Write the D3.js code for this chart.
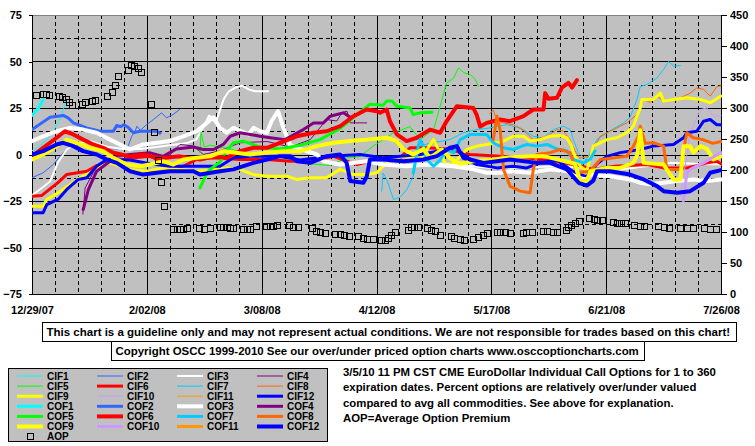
<!DOCTYPE html>
<html><head><meta charset="utf-8">
<script src="https://cdn.jsdelivr.net/npm/d3@7"></script>
<style>
body{margin:0;background:#fff;}
svg{display:block;font-family:"Liberation Sans",Arial,sans-serif;font-weight:bold;}
</style></head><body>
<svg id="chart" width="755" height="446"></svg>
<script>
// ---------------- DATA ----------------
const startDate = "2007-12-29";
const endDate = "2008-07-26";
const xTickDays = [0, 35, 70, 105, 140, 175, 210];
const xTickLabels = ["12/29/07", "2/02/08", "3/08/08", "4/12/08", "5/17/08", "6/21/08", "7/26/08"];
const leftTicks = [75, 50, 25, 0, -25, -50, -75];
const rightTicks = [450, 400, 350, 300, 250, 200, 150, 100, 50, 0];

const seriesNames = ["CIF1","CIF2","CIF3","CIF4","CIF5","CIF6","CIF7","CIF8","CIF9","CIF10","CIF11","CIF12",
                     "COF1","COF2","COF3","COF4","COF5","COF6","COF7","COF8","COF9","COF10","COF11","COF12"];
const seriesColors = ["#00FFFF","#3366FF","#FFFFFF","#800080","#00FF00","#FF0000","#00CCFF","#FF6600","#FFFF00","#CC99FF","#FF9900","#0000FF",
                      "#00FFFF","#3366FF","#FFFFFF","#800080","#00FF00","#FF0000","#00CCFF","#FF6600","#FFFF00","#CC99FF","#FF9900","#0000FF"];
const seriesWidths = [1,1,2,1,1,3,1,1,3,1,1,3, 3,3,4,3,3,4,3,3,4,3,3,4];

// each series: [day offset from start, percent]
const CIF1 = [[0,2],[2,4],[4.5,8],[7,14],[9,21],[10.6,30]];
const CIF2 = [[0,-12.5],[3.4,-9.8],[6.5,-5.4],[8.5,-1],[10.6,2.7],[14,5],[18,4],[22,3],[26,3],[29.3,4.5],[30.4,9.8],[31.4,12.5],[32,15.2],[33,13],[34.9,16],[37,18.8],[39.5,22.4],[41,19.7],[43,21.5],[45,24.2]];
const CIF3 = [[0.3,-21.5],[3,-18],[5.5,-14.5],[8,-4],[10.6,2.7],[14,6],[18,7],[23,4],[28,3],[33,3],[38,4],[42,5],[47,6],[50,8],[52,14],[54,21],[56,17],[57.3,24],[58.5,30],[60,34],[62,36],[64,37],[66,35],[68,34],[72,34],[73,null],
              [112,-6],[120,-5],[127,-5],[133,-6],[140,-7.2],[150,-7],[160,-6.3],[170,-7.2],[180,-8],[188,-6],[194.5,-4.5],[202,-5],[210,-5.4]];
const CIF4 = [[15.5,-32],[16.2,-18],[18.6,-10],[22.3,-5],[28.4,-2],[36,-1],[40.5,-3],[45.1,5.4],[49.2,4.6],[52.2,0],[57.3,2],[63.4,6.3],[71.6,7],[78.7,4],[84.8,8],[89.8,18.8],[92.9,18],[94.4,22.4],[96,23.3],[97,17],[102,17]];
const CIF5 = [[51.2,1],[51.5,12],[52.5,4],[54.3,5],[60.4,3],[69.5,-2],[78.7,-3],[84.8,-5],[90.9,-6],[95.4,-2],[100,-1],[104,4.5],[110.2,11.7],[115.2,15],[118.3,8],[122.4,13.4],[124.4,26],[126.4,38.5],[128.5,41],[130,46.6],[131.6,44],[133.6,43],[135.1,40.3],[136.1,36.7]];
const CIF6 = [[0,-22.4],[3,-22],[8,-15],[10.6,-10.7],[16.7,-9],[19.7,-6],[22.8,-4.5],[30.9,-1.8],[36,-0.9],[38,-2.7],[42,-8],[46.1,-6.3],[50.2,-2.7],[55.3,-1.8],[63.4,-2.7],[71.6,-2.7],[78.7,-3.6],[84.8,-3.6],[91.9,-1],[99,-5.4],[105.1,-2.7],[112.2,-1.8],[115.2,3.6],[120.4,3.6],[126.4,3],[133.5,0],[142.7,-1],[151.8,-2],[161,-4],[167.1,-6],[171.1,-8],[177.7,-6.3],[187.4,-5.4],[192.5,-7.2],[199.6,-7.2],[202.6,-6],[205.7,-4.5],[208.7,-3.6],[210,-5]];
const CIF7 = [[106.6,-19.7],[107,-10],[108.1,-13.4],[110.2,-24.2],[112.2,-23],[114.2,-19],[116.2,-11.7],[117.3,-1],[117.8,4.5],[121.3,6],[127.4,8],[131.5,11.7],[135.6,13.4],[139.6,14.3],[144.7,16],[148.8,14.3],[152.8,9.8],[155.9,9],[158.9,13.4],[162,15.2],[164,13.4],[165,8],[166.5,1],[168.9,-3],[172.2,8],[175.2,11.7],[180.3,17],[182.3,20],[184.4,29.6],[185.4,36.6],[187.4,37.6],[190.4,41],[192.5,45.7],[194,50],[195.6,47.5],[197.6,47.8]];
const CIF8 = [[139.6,22],[140.6,24],[141.7,18],[143.7,17],[146.7,16],[149.8,13],[152.8,8],[157,9.8],[160,13.4],[162,12.5],[164,8],[165.5,2],[167,-2],[170,-1],[173.2,9.8],[176.2,12.5],[178.3,14.3],[181.3,17],[184.4,21.5],[186.4,29.6],[188.4,28],[190.4,31.4],[192.5,28.7],[196.6,29.6],[200.6,33],[202.6,35.8],[204.7,35],[206.7,31.4],[208.7,36.4],[210,37]];
const CIF9 = [[0,-27.8],[3.4,-27.8],[4.5,-24.2],[8,-20.6],[14.6,-12.5],[17.7,-9.8],[20.7,-6.3],[23.8,-4.5],[29.9,-8],[35,-9],[40,-7.2],[45.1,-8],[50.2,-9],[54.3,-8.4],[59.4,-7.2],[63.4,-8],[67.5,-10.8],[71.6,-11.7],[77.7,-11.7],[80.7,-13.4],[84.8,-12.5],[89.8,-12.5],[93.9,-8],[98,-10.8],[102,-10.8],[105.1,-9.8],[107,-6.3],[109.1,-2.7],[113.2,-1],[118.3,-2.7],[122.4,8],[125.4,-2.7],[126.4,-6.3],[128.5,-4.5],[130.5,-1],[132.5,2.7],[135.6,4.5],[138.6,5.4],[141.7,6.3],[143.7,7.2],[146.7,9.8],[149.8,9.8],[151.8,7.2],[154.9,8],[157.9,9.8],[160.9,10.2],[163,9],[164.5,4.5],[165,1],[167.1,-6.3],[169.1,-9],[171.1,4.5],[173.2,6.3],[175.2,8],[178.3,9],[181.3,11.7],[183.3,15.2],[184.4,20.6],[185.4,25],[185.9,29.6],[189.4,29.6],[191.5,33],[192.5,28.7],[195.5,29.6],[199.6,30.5],[203.7,29.6],[206.7,27.8],[210,31.4]];
const CIF10 = [[197.6,-22.4],[198.6,-11.7],[199.6,0],[200.6,11.7],[201.6,15.2],[203.7,24.2],[205.7,25],[207.7,20.6],[210,21]];
const CIF11 = [];
const CIF12 = [[0,-31.3],[3.4,-31.3],[4.5,-27],[8,-24],[10.6,-18.8],[14.1,-13.4],[16.7,-12.5],[19.7,-6.3],[22.8,-2.7],[29.9,-3],[36,-5],[42,-6.3],[51.2,-6.3],[57.3,-6.3],[61.4,-1.8],[66.5,-0.9],[75.6,-1],[81.7,-3],[90.9,-1],[100,0],[107,-1.8],[118.3,0],[126.4,2.7],[129.5,4.5],[131.4,-2],[135.6,-5.4],[141.7,-7.2],[146.7,-6.3],[150.8,-7.2],[154.9,-4.5],[160,-3],[164.8,-9],[169,-12],[172.2,-5],[175.2,-1],[179.3,1],[185.4,2.7],[189.4,4.5],[195.5,5.4],[198.6,9],[199.6,11.7],[202.6,12.5],[204.7,17.9],[206.7,18.8],[208.7,16],[210,16]];

const COF1 = [[0,21],[2,25],[3.5,30]];
const COF2 = [[0,13.4],[3,17],[5.5,20],[9.5,21],[11,19.7],[12.6,17],[16.7,14.3],[20.7,12.5],[24.8,12.5],[25.8,15.6],[27,15],[28,16],[29.3,14.6],[30.9,11.7],[32.9,12.5],[35,12.5],[38,12.5],[39,11.5]];
const COF3 = [[0,7.2],[3.4,9.8],[7.5,12.5],[11.6,14.3],[15.6,13.4],[19.7,11.7],[23.8,8],[27.8,4.5],[29.9,2.7],[33.9,5.4],[38,6.3],[42,7.2],[46.1,9.8],[50.2,12.5],[53.3,17],[55.3,20],[56.3,17],[57.3,14.3],[59.4,11.7],[61.4,14.3],[66,10.8],[67.5,14.3],[69.5,12.5],[71.6,11.7],[73,17.9],[74,20.6],[75,23.3],[76.5,15],[78.7,5],[81.7,3],[86.8,0],[88.8,-3.6],[93.9,-5.4],[102,-3.6],[107,-5.4],[114.2,-6.3],[120.3,-5.4],[128.4,-6.3],[134.5,-8],[138.6,-9.8],[142.7,-9.8],[145.7,-9],[151.8,-9.8],[157.9,-8],[163,-9],[166.1,-12.5],[169.1,-13.4],[170.2,-10.8],[176.2,-11.7],[182.3,-13.4],[185.4,-15.2],[188.4,-16],[192.5,-15.2],[196.6,-14.3],[201.6,-13.4],[205.7,-14.3],[210,-13.4]];
const COF4 = [[15.6,-29.6],[17.2,-18.8],[19.7,-9],[23.8,-3.6],[25.8,-1],[29.9,0],[36,0.9],[40,-1],[44,3],[49.2,4],[52.2,2.7],[55.3,2.7],[58.3,5.4],[60.4,9.8],[63.4,11.7],[66.5,10.8],[69.5,9.8],[72.6,9],[77.1,8],[82.7,13.4],[85.8,17],[88.8,17],[90.9,20.6],[92.9,21.5],[94.9,22.4],[97,20]];
const COF5 = [[51.2,-18],[53.3,-10],[54.3,-8],[57.3,-4],[59.4,2],[61.4,6.3],[64.4,7.2],[69.5,4],[75.6,3],[81.7,5],[87.8,8],[93.9,14],[98,20],[101,24.2],[103,27],[107,26.5],[108.1,28.7],[109.7,28.7],[111.2,26],[115.2,25],[116.2,21.5],[118.3,22.4],[121.9,22.7]];
const COF6 = [[0,-1],[3.4,3.6],[7.5,9],[10,12.5],[12.6,10.8],[15.6,8],[18.7,5.4],[21.7,3.6],[24.8,0.9],[29.9,-1],[33.9,0],[39,-2],[45.1,-1],[51.2,-2.7],[55.3,-1],[59.4,-1.8],[63.4,1.8],[67.5,3.6],[71.6,3.6],[75.6,6.3],[80.7,9.8],[85.8,11.7],[89.8,12.5],[93.9,15.2],[98,20.6],[102,24.2],[105.1,23.3],[106.1,22.4],[108.1,24.2],[109.1,17.9],[111.2,10.8],[114.2,7.2],[117.3,9],[121.3,13.4],[124.4,11.7],[126.4,18],[129.5,26],[134.5,25],[135.6,21],[136.6,15],[138.6,17],[140.6,17.9],[142.7,18.8],[145.7,17.9],[149.8,20.6],[152.8,24.2],[155.9,24.2],[156.4,33],[157.4,30],[160,30.5],[161.5,36],[163.5,38.5],[164.6,36],[166.1,40]];
const COF7 = [[116.2,-10],[117.8,5],[118.3,8],[119.3,4.5],[120.3,-2.7],[122.4,-6.3],[124.4,-3],[126.4,2.7],[128.5,1],[130.5,8],[133.5,10.8],[138.6,10.8],[140.6,6.3],[143.7,3.6],[146.7,2.7],[150.8,5.4],[153.9,4.5],[157,5.4],[160,3],[163,2],[165,-2.7],[168,-4.5],[170.1,-2.7],[171.6,2]];
const COF8 = [[140.6,8],[141.7,20.6],[142.7,13],[143.7,-8],[145.7,-17],[148.8,-19.7],[151.8,-20.6],[152.8,-8],[153.9,0],[157.9,1],[160.9,2.7],[164,1],[166.1,-9.8],[170.1,-9],[173.2,-2.7],[181.3,-1],[183.3,4.5],[184.8,9.8],[185.4,15.2],[186.9,6],[189.4,6.3],[192.5,4.5],[193.5,-8],[197.6,-8],[198.6,2.7],[199.6,11.7],[201.5,9],[204.5,8],[207.5,6],[210,7]];
const COF9 = [[0,-2.7],[3.4,0],[7.5,4.5],[10.6,8],[13.6,6.3],[17.7,3.6],[21.7,1.8],[24.8,-1.8],[28.9,-5.4],[32.9,-6.3],[36,-5.4],[40,-3.6],[43.1,-5.4],[46.1,-2.7],[50.2,-1.8],[54.3,-1],[58.3,1.8],[66.5,0],[71.6,1],[76.6,1.8],[81.7,1.8],[86.8,4.5],[91.9,6.3],[97,7.2],[102,8],[108.1,9],[111.2,7.2],[113.2,2.7],[116.2,0],[119.3,3],[121.3,-2],[124.9,2.7],[127.4,-2],[130.5,-5],[134.5,-3.6],[139.6,-3],[145.7,-1.5],[151.8,-1],[156.4,-1],[161,-3],[165.5,-5],[167.1,-14.3],[169.1,-14.3],[170.2,-9],[175.2,-7.2],[179.3,-7.2],[183.3,-4.5],[184.5,0],[185.4,13],[186.4,-4.5],[192.5,-5.4],[195.5,-13.4],[197.6,-13.4],[198.6,4.5],[200.6,4.5],[201.6,1],[203.7,4.5],[205.7,3],[207.7,-2.7],[210,-1]];
const COF10 = [[198.5,-25],[199.6,-10],[200.6,-8],[202.6,-6.3],[204.7,-4.5],[207,-2],[210,1]];
const COF11 = [];
const COF12 = [[0,0],[3.4,1.8],[7.5,5.4],[9.5,6.3],[12.6,4.5],[15.6,1.8],[19.7,0],[22.8,-2.7],[25.8,-4.5],[29.9,-9],[33.9,-10.8],[38,-9.8],[42,-9],[49.2,-9],[51.2,-10.8],[57.3,-9],[61.4,-8],[67.5,-4.5],[71.6,-2.7],[75.6,-0.9],[78.7,-0.9],[80.7,-3.6],[84.8,-4.5],[89.8,-0.9],[93.9,0],[95.9,-4.5],[97,-14.3],[101,-15.2],[102,-12],[103,-2.7],[107,-2.7],[113.2,-3.6],[119.3,-2.7],[123.4,-0.9],[127.4,3.6],[129.5,4.5],[130.5,1],[133.5,-2.7],[137.6,-4.5],[141.7,-3.6],[145.7,-2.7],[153.9,-4.5],[157.9,-4.5],[163,-8],[166.6,-15.2],[169.1,-16.7],[171.1,-14],[172.2,-9],[176.2,-9],[182.3,-10.8],[186.4,-13.4],[190.5,-17],[192.5,-19.7],[196.6,-20.6],[200.6,-19.7],[204.7,-15.2],[206.7,-9.8],[210,-8.4]];

const seriesData = [CIF1,CIF2,CIF3,CIF4,CIF5,CIF6,CIF7,CIF8,CIF9,CIF10,CIF11,CIF12,
                    COF1,COF2,COF3,COF4,COF5,COF6,COF7,COF8,COF9,COF10,COF11,COF12];

// Average Option Premium (right axis): [day offset, value]
const AOP = [[1.2,321],[3.3,322],[4.3,322],[5.3,321],[8.1,319],[9.1,317],[10.4,315],[11.3,310],[12.2,305],[15.2,307],[16.2,309],[18.2,312],[19.2,313],[23,320],[24.3,326],[25.3,337],[26.1,352],[29.2,362],[30.1,369],[31.2,368],[32.2,365],[33.2,358],[36.2,307],[37.1,261],[38.4,216],[39.3,181],[40.2,142],
  [43.1,105],[44.1,105],[45.1,105],[46.1,105],[47.2,107],[51,107],[52.4,105],[54.3,107],[57.3,108.5],[58.3,108.5],[59.4,108.5],[60.4,106.5],[61.4,106],[64.2,105],[65.5,105],[66.5,105],[68.3,110],[71.3,110],[72.6,110],[73.6,110],[74.8,111],[78.4,112],[79.7,108.5],[81.2,108.5],
  [85.3,106.5],[86.6,102],[87.8,99.5],[89.3,99],[92.4,97.3],[93.9,96.3],[95.1,95.6],[96.7,93.5],[99.5,93.5],[100.8,90.3],[102.2,89.2],[103.9,89.2],[106.3,87.1],[107.7,87.6],[108.5,90.8],[109.4,95.2],[110.6,100.5],[114.5,103.2],[115.5,107.6],[116.5,107.6],[117.8,108.1],
  [120.5,106.5],[121.6,103],[122.9,101.6],[124.4,95.6],[127.7,93.5],[128.7,90.3],[130.3,88.2],[131.7,87.6],[134.5,89.2],[135.8,91.5],[137.4,95.2],[138.6,98.9],[141.7,100.5],[142.7,100.5],[144.2,100.5],[145.7,98.9],[149.6,98.9],[150.6,100.5],[152.3,100.5],
  [155.7,102],[157.1,101],[158.9,100.5],[159.9,100.5],[162.8,103.2],[163.5,107.6],[164.3,111.3],[165.5,114],[166.6,118.2],[169.9,122],[171.3,121],[172.3,119.4],[173.7,119.4],[177,116.6],[178.2,115],[179.5,114],[180.8,114],
  [183.5,111.3],[185.2,109.7],[186.6,109.7],[190.9,109.7],[192.5,107.6],[194,107],[197.6,107],[199.6,107],[201.6,107],[204.7,106],[206.7,105],[208.5,105]];

const disclaimerText = "This chart is a guideline only and may not represent actual conditions. We are not responsible for trades based on this chart!";
const copyrightText = "Copyright OSCC 1999-2010 See our over/under priced option charts www.osccoptioncharts.com";
const noteLines = ["3/5/10 11 PM CST CME EuroDollar Individual Call Options for 1 to 360",
                   "expiration dates. Percent options are relatively over/under valued",
                   "compared to avg all commodities. See above for explanation.",
                   "AOP=Average Option Premium"];

// ---------------- DRAWING ----------------
const svg = d3.select("#chart");
const L = 32, R = 721, T = 15, B = 294;
const t0 = new Date(startDate + "T00:00:00Z");
const dayDate = d => new Date(t0.getTime() + d * 864e5);
const x = d3.scaleUtc().domain([t0, new Date(endDate + "T00:00:00Z")]).range([L, R]);
const y = d3.scaleLinear().domain([-75, 75]).range([B, T]);
const yR = d3.scaleLinear().domain([0, 450]).range([B, T]);

svg.append("rect").attr("width", 755).attr("height", 446).attr("fill", "#fff");
svg.append("rect").attr("x", L).attr("y", T).attr("width", R - L).attr("height", B - T).attr("fill", "#C0C0C0");

const grid = svg.append("g").attr("shape-rendering", "crispEdges").attr("stroke", "#000").attr("stroke-width", 1);
d3.range(-62.5, 75, 12.5).forEach(v => {
  const yy = Math.round(y(v)) + 0.5;
  grid.append("line").attr("x1", L).attr("x2", R).attr("y1", yy).attr("y2", yy)
    .attr("stroke-dasharray", (Math.abs(v) % 25 === 0) ? null : "4,3");
});
d3.range(7, 210, 7).forEach(dd => {
  const xx = Math.round(x(dayDate(dd))) + 0.5;
  grid.append("line").attr("x1", xx).attr("x2", xx).attr("y1", T).attr("y2", B)
    .attr("stroke-dasharray", (dd % 35 === 0) ? null : "4,3");
});
grid.append("line").attr("x1", L).attr("x2", R).attr("y1", T + 0.5).attr("y2", T + 0.5).attr("stroke", "#808080");
grid.append("line").attr("x1", L + 0.5).attr("x2", L + 0.5).attr("y1", T).attr("y2", B + 1);
grid.append("line").attr("x1", R + 0.5).attr("x2", R + 0.5).attr("y1", T).attr("y2", B + 1);
grid.append("line").attr("x1", L).attr("x2", R + 1).attr("y1", B + 0.5).attr("y2", B + 0.5);

svg.append("clipPath").attr("id", "clip").append("rect").attr("x", L).attr("y", T).attr("width", R - L + 1).attr("height", B - T);

const line = d3.line()
  .defined(d => d[1] !== null)
  .x(d => x(dayDate(d[0])))
  .y(d => y(d[1]));

const linesG = svg.append("g").attr("clip-path", "url(#clip)");
seriesData.forEach((data, i) => {
  if (!data.length) return;
  linesG.append("path").datum(data)
    .attr("d", line)
    .attr("fill", "none")
    .attr("stroke", seriesColors[i])
    .attr("stroke-width", seriesWidths[i])
    .attr("stroke-linejoin", "round")
    .attr("stroke-linecap", "round");
});

svg.append("g").attr("shape-rendering", "crispEdges").selectAll("rect").data(AOP).join("rect")
  .attr("x", d => Math.round(x(dayDate(d[0]))) - 2.5)
  .attr("y", d => Math.round(yR(d[1])) - 2.5)
  .attr("width", 6).attr("height", 6)
  .attr("fill", "none").attr("stroke", "#000").attr("stroke-width", 1);

// Axes
const fontSize = "11px";
const leftAxis = svg.append("g").attr("transform", `translate(${L},0)`)
  .call(d3.axisLeft(y).tickValues(leftTicks).tickSize(3).tickPadding(7).tickFormat(d3.format("d")));
const rightAxis = svg.append("g").attr("transform", `translate(${R + 1},0)`)
  .call(d3.axisRight(yR).tickValues(rightTicks).tickSize(5).tickPadding(3));
const bottomAxis = svg.append("g").attr("transform", `translate(0,${B})`)
  .call(d3.axisBottom(x).tickValues(xTickDays.map(dayDate)).tickSize(0).tickPadding(12)
    .tickFormat((d, i) => xTickLabels[i]));
[leftAxis, rightAxis, bottomAxis].forEach(g => {
  g.select(".domain").remove();
  g.selectAll("text").attr("font-family", '"Liberation Sans",Arial,sans-serif').attr("font-weight", "bold").attr("font-size", fontSize).attr("fill", "#000");
  g.selectAll("line").attr("stroke", "#000").attr("shape-rendering", "crispEdges");
});

function fitFont(sel, w, base) {
  sel.attr("font-size", base + "px");
  const n = sel.node().getComputedTextLength();
  const fs = base * w / n;
  sel.attr("font-size", fs.toFixed(2) + "px");
  return fs;
}
svg.append("rect").attr("x", 42.5).attr("y", 322.5).attr("width", 694).attr("height", 19)
  .attr("fill", "#fff").attr("stroke", "#000").attr("shape-rendering", "crispEdges");
const t1 = svg.append("text").attr("x", 46.5).attr("y", 336).text(disclaimerText);
fitFont(t1, 684, 12);
svg.append("rect").attr("x", 111.5).attr("y", 341.5).attr("width", 533).attr("height", 19)
  .attr("fill", "#fff").attr("stroke", "#000").attr("shape-rendering", "crispEdges");
const t2 = svg.append("text").attr("x", 115.5).attr("y", 355).text(copyrightText);
fitFont(t2, 524, 12);

// note lines share one font size, fitted to the first line
const noteTexts = noteLines.map((s, i) =>
  svg.append("text").attr("x", 343).attr("y", 375.5 + i * 15.6).text(s));
const noteFs = fitFont(noteTexts[0], 373, 11);
noteTexts.forEach(t => t.attr("font-size", noteFs.toFixed(2) + "px"));

// Legend
svg.append("rect").attr("x", 8.5).attr("y", 368.5).attr("width", 319).attr("height", 73)
  .attr("fill", "#C0C0C0").attr("stroke", "#000").attr("shape-rendering", "crispEdges");
const lg = svg.append("g");
seriesNames.forEach((name, i) => {
  const row = Math.floor(i / 4), col = i % 4;
  const lx = 17 + col * 80, ly = 376 + row * 10.1;
  lg.append("line").attr("x1", lx).attr("x2", lx + 26).attr("y1", ly).attr("y2", ly)
    .attr("stroke", seriesColors[i]).attr("stroke-width", seriesWidths[i]);
  lg.append("text").attr("x", lx + 30).attr("y", ly).attr("dy", "0.35em").attr("font-size", "10px").text(name);
});
lg.append("rect").attr("x", 27.5).attr("y", 433.5).attr("width", 6).attr("height", 6)
  .attr("fill", "none").attr("stroke", "#000").attr("shape-rendering", "crispEdges");
lg.append("text").attr("x", 47).attr("y", 436.6).attr("dy", "0.35em").attr("font-size", "10px").text("AOP");
</script>
</body></html>
